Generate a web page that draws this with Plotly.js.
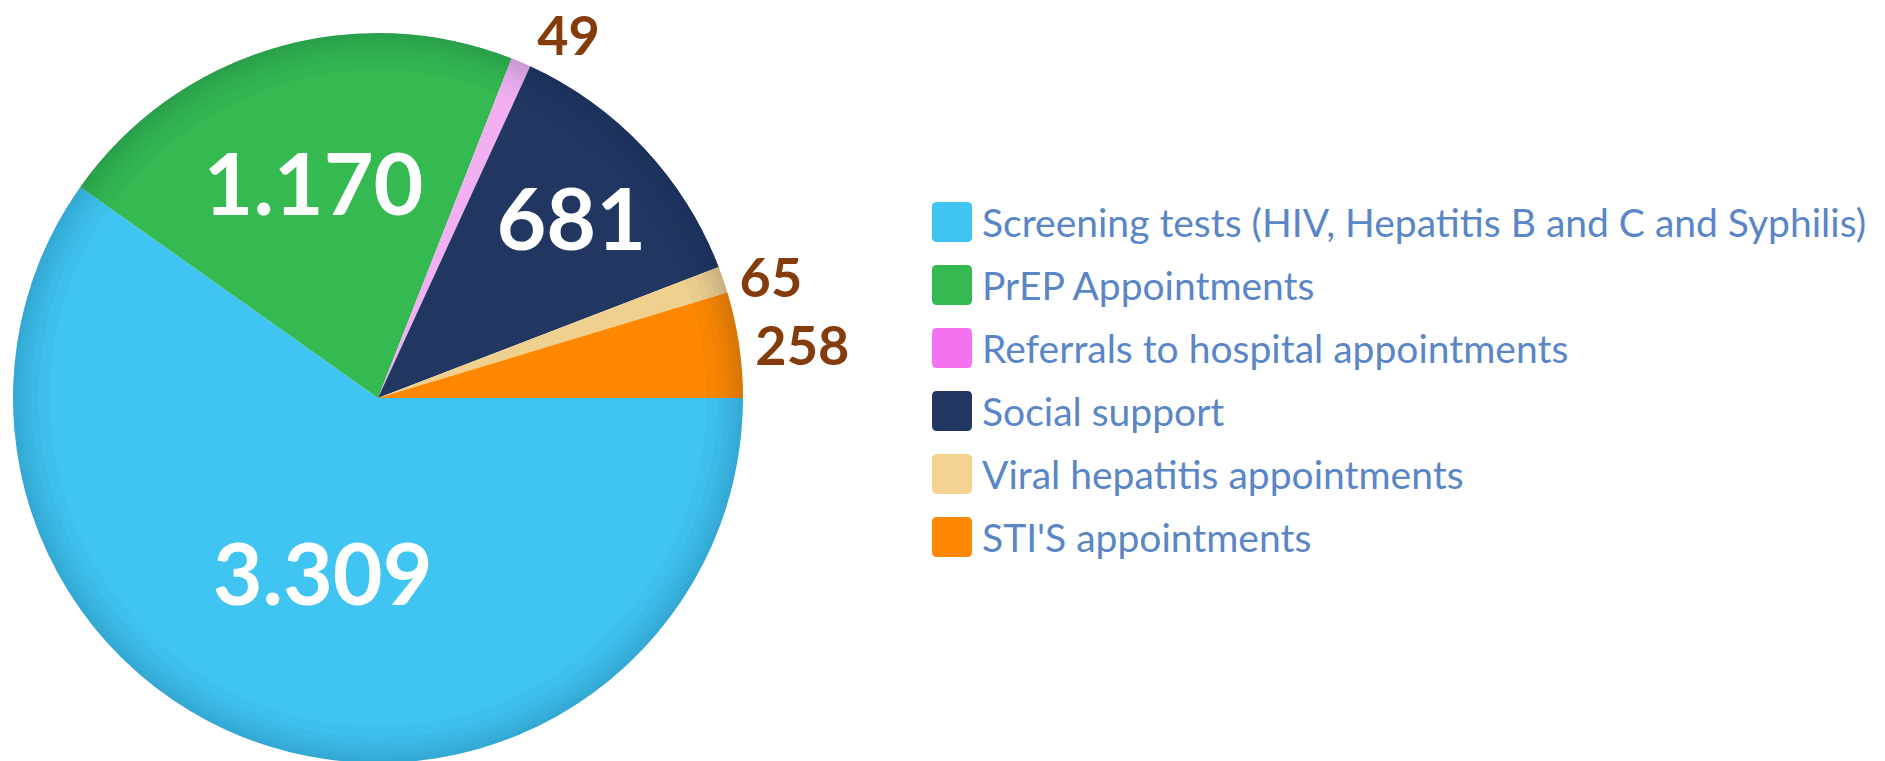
<!DOCTYPE html>
<html>
<head>
<meta charset="utf-8">
<script src="https://cdn.plot.ly/plotly-3.0.1.min.js"></script>
<style>
  html, body { margin: 0; padding: 0; background: #ffffff; overflow: hidden; }
  #chart { width: 1885px; height: 766px; }
</style>
</head>
<body>
<div id="chart"></div>
<script>
// ---- data ----
const categories = [
  "Screening tests (HIV, Hepatitis B and C and Syphilis)",
  "PrEP Appointments",
  "Referrals to hospital appointments",
  "Social support",
  "Viral hepatitis appointments",
  "STI'S appointments"
];
const values = [3309, 1170, 49, 681, 65, 258];
const sliceColors = ["#40c4f1", "#35b951", "#f2b0f2", "#213660", "#f0d08e", "#ff8800"];
const legendColors = ["#40c4f1", "#35b951", "#f472f0", "#213660", "#f2d392", "#ff8800"];
const labelInside = [true, true, false, true, false, false];

// ---- layout helpers ----
const W = 1885, H = 766;
const px = x => x / W;
const py = y => 1 - y / H;
const pieDomain = { x: [px(13), px(743)], y: [py(763), py(33)] };

const textpos = labelInside.map(b => b ? "inside" : "outside");
const textColors = labelInside.map(b => b ? "#ffffff" : "#843c0c");
const textSizes = labelInside.map(b => b ? 86 : 54);

const pie = {
  type: "pie",
  labels: categories,
  values: values,
  sort: false,
  direction: "clockwise",
  rotation: 90,
  marker: { colors: sliceColors, line: { width: 0 } },
  texttemplate: "%{value:,.0f}",
  textposition: textpos,
  insidetextorientation: "horizontal",
  textfont: { family: "Lato, 'Open Sans', sans-serif", size: textSizes, color: textColors, weight: "bold" },
  hoverinfo: "label+value",
  domain: pieDomain,
  showlegend: false
};

// subtle rim shading overlays (decorative, no data)
const rimHoles = [0.90, 0.93, 0.95, 0.965, 0.978, 0.99];
const rims = rimHoles.map(hole => ({
  type: "pie",
  values: [1],
  labels: [""],
  hole: hole,
  sort: false,
  textinfo: "none",
  hoverinfo: "skip",
  marker: { colors: ["rgba(0,30,70,0.028)"], line: { width: 0 } },
  domain: pieDomain,
  showlegend: false
}));

// legend built from categories/colors
const shapes = [];
const annotations = [];
const rowStart = 222, rowGap = 63, sqX = 932, sqS = 40, r = 5;
categories.forEach((c, i) => {
  const yc = rowStart + i * rowGap;
  const x0 = sqX, x1 = sqX + sqS, y0 = yc - sqS / 2, y1 = yc + sqS / 2;
  const P = (x, y) => px(x).toFixed(5) + "," + py(y).toFixed(5);
  const path = "M" + P(x0 + r, y0) + " L" + P(x1 - r, y0) + " Q" + P(x1, y0) + " " + P(x1, y0 + r) +
    " L" + P(x1, y1 - r) + " Q" + P(x1, y1) + " " + P(x1 - r, y1) +
    " L" + P(x0 + r, y1) + " Q" + P(x0, y1) + " " + P(x0, y1 - r) +
    " L" + P(x0, y0 + r) + " Q" + P(x0, y0) + " " + P(x0 + r, y0) + " Z";
  shapes.push({ type: "path", xref: "paper", yref: "paper", path: path,
    fillcolor: legendColors[i], line: { width: 0 } });
  annotations.push({ xref: "paper", yref: "paper", x: px(980), y: py(yc), xanchor: "left", yanchor: "middle",
    text: c, showarrow: false, font: { family: "Lato, sans-serif", size: 39, color: "#5a86c6" } });
});

const layout = {
  width: W, height: H,
  margin: { l: 0, r: 0, t: 0, b: 0, pad: 0 },
  paper_bgcolor: "#ffffff",
  separators: ",.",
  showlegend: false,
  shapes: shapes,
  annotations: annotations
};

Plotly.newPlot("chart", [pie].concat(rims), layout, { displayModeBar: false, staticPlot: true });
</script>
</body>
</html>
